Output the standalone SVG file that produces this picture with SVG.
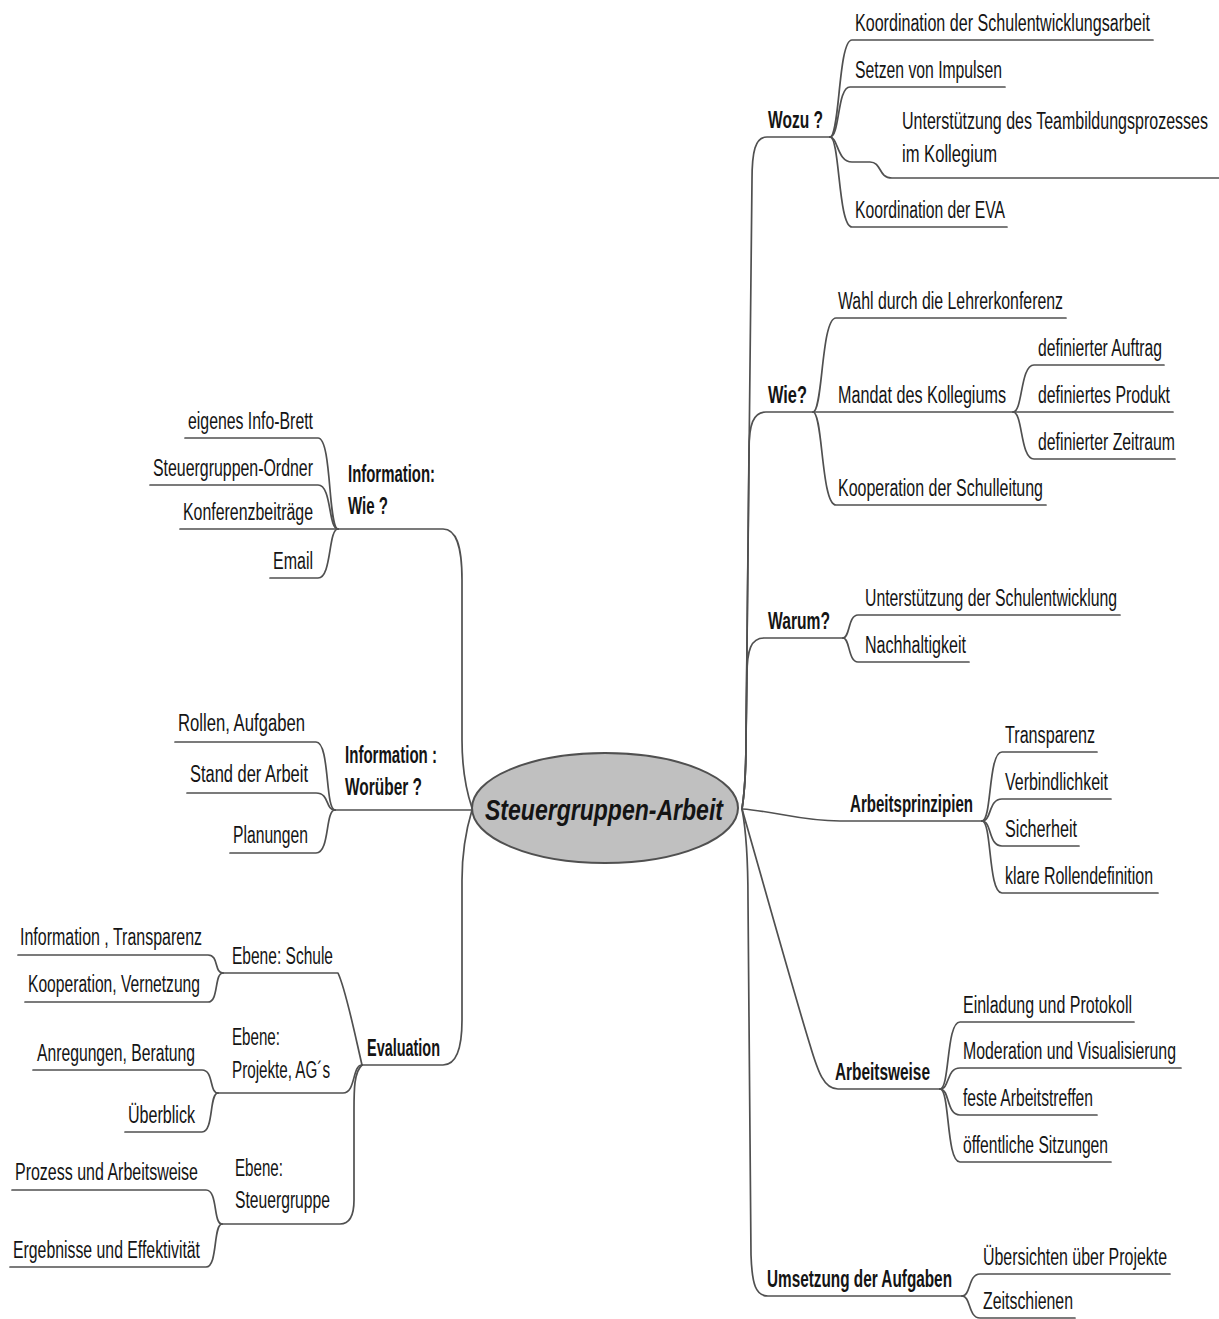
<svg xmlns="http://www.w3.org/2000/svg" width="1219" height="1319" viewBox="0 0 1219 1319">
<style>
.c{fill:none;stroke:#505050;stroke-width:1.7;stroke-linecap:round;stroke-linejoin:round}
text{font-family:"Liberation Sans Narrow","Liberation Sans",Arial,sans-serif;fill:#141414}
.t{font-size:23px}
.b{font-size:23px;font-weight:bold}
.m{font-size:30px;font-weight:bold;font-style:italic}
</style>
<rect width="1219" height="1319" fill="#fff"/>
<g id="connectors">
<!-- right trunk -->
<path class="c" d="M742,809 C745,790 746,760 746,740 L752,180 C752,152 755,137 767,137 H830"/>
<path class="c" d="M742,809 C745,790 746,760 746,740 L749,450 C749,425 753,412 766,412 H1173"/>
<path class="c" d="M742,809 C745,790 746,760 746,740 L747,675 C747,650 751,638 764,638 H843"/>
<path class="c" d="M742,809 C775,811 800,821 840,821 H982"/>
<path class="c" d="M742,809 C754,850 790,980 810,1045 C818,1072 824,1089 838,1089 H940"/>
<path class="c" d="M742,809 C746,830 748,860 748,900 L751,1255 C752,1285 756,1296 768,1296 H962"/>
<!-- Wozu children -->
<path class="c" d="M830,137 C840,137 838,40 852,40 H1153"/>
<path class="c" d="M830,137 C840,137 837,87 850,87 H1005"/>
<path class="c" d="M830,137 C838,137 837,162 852,162 H870 C882,162 878,178 892,178 H1219"/>
<path class="c" d="M830,137 C840,137 838,227 852,227 H1007"/>
<!-- Wie children -->
<path class="c" d="M813,412 C823,412 821,318 836,318 H1066"/>
<path class="c" d="M813,412 C823,412 821,505 836,505 H1046"/>
<path class="c" d="M1013,412 C1023,412 1020,365 1034,365 H1164"/>
<path class="c" d="M1013,412 C1023,412 1020,459 1034,459 H1175"/>
<!-- Warum children -->
<path class="c" d="M843,638 C850,638 848,615 858,615 H1120"/>
<path class="c" d="M843,638 C850,638 848,662 858,662 H969"/>
<!-- Arbeitsprinzipien children -->
<path class="c" d="M982,821 C992,821 988,752 1002,752 H1097"/>
<path class="c" d="M982,821 C992,821 988,799 1002,799 H1111"/>
<path class="c" d="M982,821 C992,821 988,846 1002,846 H1079"/>
<path class="c" d="M982,821 C992,821 988,893 1002,893 H1158"/>
<!-- Arbeitsweise children -->
<path class="c" d="M940,1089 C950,1089 946,1022 960,1022 H1134"/>
<path class="c" d="M940,1089 C950,1089 946,1068 960,1068 H1181"/>
<path class="c" d="M940,1089 C950,1089 946,1115 960,1115 H1097"/>
<path class="c" d="M940,1089 C950,1089 946,1162 960,1162 H1111"/>
<!-- Umsetzung children -->
<path class="c" d="M962,1296 C971,1296 968,1274 980,1274 H1170"/>
<path class="c" d="M962,1296 C971,1296 968,1318 980,1318 H1075"/>
<!-- left trunk -->
<path class="c" d="M472,808 C466,790 462,770 462,740 V580 C462,545 456,529 443,529 H338"/>
<path class="c" d="M472,810 H335"/>
<path class="c" d="M472,810 C466,830 462,850 462,880 V1020 C462,1050 456,1065 443,1065 H362"/>
<!-- Information: Wie children -->
<path class="c" d="M338,529 C328,529 332,438 318,438 H185"/>
<path class="c" d="M338,529 C328,529 332,485 318,485 H150"/>
<path class="c" d="M338,529 H180"/>
<path class="c" d="M338,529 C328,529 332,578 318,578 H270"/>
<!-- Worueber children -->
<path class="c" d="M335,810 C325,810 330,742 316,742 H175"/>
<path class="c" d="M335,810 C325,810 330,793 316,793 H187"/>
<path class="c" d="M335,810 C325,810 330,853 316,853 H230"/>
<!-- Evaluation children -->
<path class="c" d="M362,1065 C355,1035 346,990 338,973 H223"/>
<path class="c" d="M362,1065 C352,1065 356,1093 343,1093 H218"/>
<path class="c" d="M362,1065 C354,1072 354,1090 354,1110 V1200 C354,1215 350,1224 340,1224 H222"/>
<path class="c" d="M223,973 C214,973 219,955 208,955 H18"/>
<path class="c" d="M223,973 C214,973 219,1002 208,1002 H25"/>
<path class="c" d="M218,1093 C209,1093 214,1070 202,1070 H33"/>
<path class="c" d="M218,1093 C209,1093 214,1132 202,1132 H125"/>
<path class="c" d="M222,1224 C213,1224 218,1190 206,1190 H12"/>
<path class="c" d="M222,1224 C213,1224 218,1267 206,1267 H10"/>
</g>
<g id="center">
<ellipse cx="605" cy="808" rx="133" ry="55" fill="#c0c0c0" stroke="#505050" stroke-width="2"/>
<text class="m" x="485" y="820" textLength="238" lengthAdjust="spacingAndGlyphs">Steuergruppen-Arbeit</text>
</g>
<g id="wozu"><text class="b" x="768" y="128" textLength="55" lengthAdjust="spacingAndGlyphs">Wozu ?</text></g>
<g id="wozu-1"><text class="t" x="855" y="31" textLength="295" lengthAdjust="spacingAndGlyphs">Koordination der Schulentwicklungsarbeit</text></g>
<g id="wozu-2"><text class="t" x="855" y="78" textLength="147" lengthAdjust="spacingAndGlyphs">Setzen von Impulsen</text></g>
<g id="wozu-3"><text class="t" x="902" y="129" textLength="306" lengthAdjust="spacingAndGlyphs">Unterstützung des Teambildungsprozesses</text><text class="t" x="902" y="162" textLength="95" lengthAdjust="spacingAndGlyphs">im Kollegium</text></g>
<g id="wozu-4"><text class="t" x="855" y="218" textLength="150" lengthAdjust="spacingAndGlyphs">Koordination der EVA</text></g>
<g id="wie"><text class="b" x="768" y="403" textLength="39" lengthAdjust="spacingAndGlyphs">Wie?</text></g>
<g id="wie-1"><text class="t" x="838" y="309" textLength="225" lengthAdjust="spacingAndGlyphs">Wahl durch die Lehrerkonferenz</text></g>
<g id="wie-2"><text class="t" x="838" y="403" textLength="168" lengthAdjust="spacingAndGlyphs">Mandat des Kollegiums</text></g>
<g id="wie-2-1"><text class="t" x="1038" y="356" textLength="124" lengthAdjust="spacingAndGlyphs">definierter Auftrag</text></g>
<g id="wie-2-2"><text class="t" x="1038" y="403" textLength="132" lengthAdjust="spacingAndGlyphs">definiertes Produkt</text></g>
<g id="wie-2-3"><text class="t" x="1038" y="450" textLength="137" lengthAdjust="spacingAndGlyphs">definierter Zeitraum</text></g>
<g id="wie-3"><text class="t" x="838" y="496" textLength="205" lengthAdjust="spacingAndGlyphs">Kooperation der Schulleitung</text></g>
<g id="warum"><text class="b" x="768" y="629" textLength="62" lengthAdjust="spacingAndGlyphs">Warum?</text></g>
<g id="warum-1"><text class="t" x="865" y="606" textLength="252" lengthAdjust="spacingAndGlyphs">Unterstützung der Schulentwicklung</text></g>
<g id="warum-2"><text class="t" x="865" y="653" textLength="101" lengthAdjust="spacingAndGlyphs">Nachhaltigkeit</text></g>
<g id="prinzipien"><text class="b" x="850" y="812" textLength="123" lengthAdjust="spacingAndGlyphs">Arbeitsprinzipien</text></g>
<g id="prinzipien-1"><text class="t" x="1005" y="743" textLength="90" lengthAdjust="spacingAndGlyphs">Transparenz</text></g>
<g id="prinzipien-2"><text class="t" x="1005" y="790" textLength="103" lengthAdjust="spacingAndGlyphs">Verbindlichkeit</text></g>
<g id="prinzipien-3"><text class="t" x="1005" y="837" textLength="72" lengthAdjust="spacingAndGlyphs">Sicherheit</text></g>
<g id="prinzipien-4"><text class="t" x="1005" y="884" textLength="148" lengthAdjust="spacingAndGlyphs">klare Rollendefinition</text></g>
<g id="weise"><text class="b" x="835" y="1080" textLength="95" lengthAdjust="spacingAndGlyphs">Arbeitsweise</text></g>
<g id="weise-1"><text class="t" x="963" y="1013" textLength="169" lengthAdjust="spacingAndGlyphs">Einladung und Protokoll</text></g>
<g id="weise-2"><text class="t" x="963" y="1059" textLength="213" lengthAdjust="spacingAndGlyphs">Moderation und Visualisierung</text></g>
<g id="weise-3"><text class="t" x="963" y="1106" textLength="130" lengthAdjust="spacingAndGlyphs">feste Arbeitstreffen</text></g>
<g id="weise-4"><text class="t" x="963" y="1153" textLength="145" lengthAdjust="spacingAndGlyphs">öffentliche Sitzungen</text></g>
<g id="umsetzung"><text class="b" x="767" y="1287" textLength="185" lengthAdjust="spacingAndGlyphs">Umsetzung der Aufgaben</text></g>
<g id="umsetzung-1"><text class="t" x="983" y="1265" textLength="184" lengthAdjust="spacingAndGlyphs">Übersichten über Projekte</text></g>
<g id="umsetzung-2"><text class="t" x="983" y="1309" textLength="90" lengthAdjust="spacingAndGlyphs">Zeitschienen</text></g>
<g id="info-wie"><text class="b" x="348" y="482" textLength="87" lengthAdjust="spacingAndGlyphs">Information:</text><text class="b" x="348" y="514" textLength="40" lengthAdjust="spacingAndGlyphs">Wie ?</text></g>
<g id="info-wie-1"><text class="t" x="188" y="429" textLength="125" lengthAdjust="spacingAndGlyphs">eigenes Info-Brett</text></g>
<g id="info-wie-2"><text class="t" x="153" y="476" textLength="160" lengthAdjust="spacingAndGlyphs">Steuergruppen-Ordner</text></g>
<g id="info-wie-3"><text class="t" x="183" y="520" textLength="130" lengthAdjust="spacingAndGlyphs">Konferenzbeiträge</text></g>
<g id="info-wie-4"><text class="t" x="273" y="569" textLength="40" lengthAdjust="spacingAndGlyphs">Email</text></g>
<g id="info-worueber"><text class="b" x="345" y="763" textLength="92" lengthAdjust="spacingAndGlyphs">Information :</text><text class="b" x="345" y="795" textLength="77" lengthAdjust="spacingAndGlyphs">Worüber ?</text></g>
<g id="info-worueber-1"><text class="t" x="178" y="731" textLength="127" lengthAdjust="spacingAndGlyphs">Rollen, Aufgaben</text></g>
<g id="info-worueber-2"><text class="t" x="190" y="782" textLength="118" lengthAdjust="spacingAndGlyphs">Stand der Arbeit</text></g>
<g id="info-worueber-3"><text class="t" x="233" y="843" textLength="75" lengthAdjust="spacingAndGlyphs">Planungen</text></g>
<g id="evaluation"><text class="b" x="367" y="1056" textLength="73" lengthAdjust="spacingAndGlyphs">Evaluation</text></g>
<g id="eval-schule"><text class="t" x="232" y="964" textLength="101" lengthAdjust="spacingAndGlyphs">Ebene: Schule</text></g>
<g id="eval-schule-1"><text class="t" x="20" y="945" textLength="182" lengthAdjust="spacingAndGlyphs">Information , Transparenz</text></g>
<g id="eval-schule-2"><text class="t" x="28" y="992" textLength="172" lengthAdjust="spacingAndGlyphs">Kooperation, Vernetzung</text></g>
<g id="eval-projekte"><text class="t" x="232" y="1045" textLength="48" lengthAdjust="spacingAndGlyphs">Ebene:</text><text class="t" x="232" y="1078" textLength="98" lengthAdjust="spacingAndGlyphs">Projekte, AG´s</text></g>
<g id="eval-projekte-1"><text class="t" x="37" y="1061" textLength="158" lengthAdjust="spacingAndGlyphs">Anregungen, Beratung</text></g>
<g id="eval-projekte-2"><text class="t" x="128" y="1123" textLength="67" lengthAdjust="spacingAndGlyphs">Überblick</text></g>
<g id="eval-steuer"><text class="t" x="235" y="1176" textLength="48" lengthAdjust="spacingAndGlyphs">Ebene:</text><text class="t" x="235" y="1208" textLength="95" lengthAdjust="spacingAndGlyphs">Steuergruppe</text></g>
<g id="eval-steuer-1"><text class="t" x="15" y="1180" textLength="183" lengthAdjust="spacingAndGlyphs">Prozess und Arbeitsweise</text></g>
<g id="eval-steuer-2"><text class="t" x="13" y="1258" textLength="187" lengthAdjust="spacingAndGlyphs">Ergebnisse und Effektivität</text></g>
</svg>
